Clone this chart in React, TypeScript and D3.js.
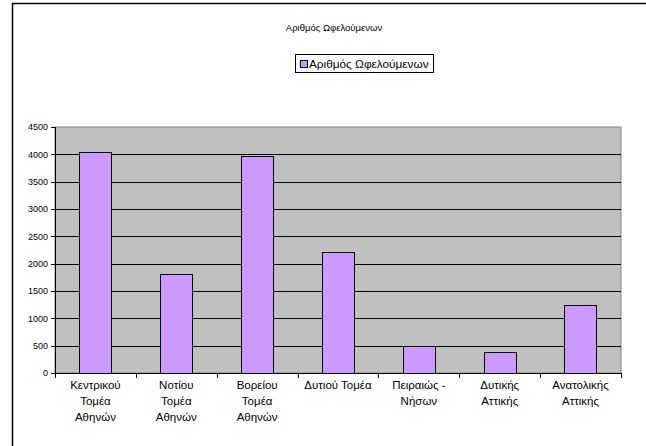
import React from "react";
import * as d3 from "d3";

const categories: string[][] = [
  ["Κεντρικού", "Τομέα", "Αθηνών"],
  ["Νοτίου", "Τομέα", "Αθηνών"],
  ["Βορείου", "Τομέα", "Αθηνών"],
  ["Δυτιού Τομέα"],
  ["Πειραιώς -", "Νήσων"],
  ["Δυτικής", "Αττικής"],
  ["Ανατολικής", "Αττικής"],
];
const values: number[] = [4040, 1820, 3970, 2210, 490, 390, 1240];
const yTicks: number[] = [0, 500, 1000, 1500, 2000, 2500, 3000, 3500, 4000, 4500];
const title = "Αριθμός Ωφελούμενων";
const seriesName = "Αριθμός Ωφελούμενων";

const W = 646;
const H = 446;
const plot = { left: 55, right: 621, top: 127, bottom: 373 };
const font = "'Liberation Sans', Arial, sans-serif";

export default function App() {
  const idx = categories.map((_, i) => String(i));
  const x = d3
    .scaleBand<string>()
    .domain(idx)
    .range([plot.left, plot.right])
    .paddingInner(0.6)
    .paddingOuter(0.3);
  const xOuter = d3.scaleBand<string>().domain(idx).range([plot.left, plot.right]);
  const y = d3.scaleLinear().domain([0, 4500]).range([plot.bottom, plot.top]);
  const boundaries = d3.range(categories.length + 1).map(
    (i) => plot.left + i * xOuter.step()
  );

  return (
    <svg
      width={W}
      height={H}
      style={{ position: "absolute", left: 0, top: 0, background: "#fff" }}
      fontFamily={font}
    >
      <rect x={0} y={0} width={W} height={H} fill="#fff" />
      {/* chart frame */}
      <rect x={12.5} y={3.5} width={W + 20} height={H + 20} fill="none" stroke="#000" strokeWidth={1.5} />
      {/* title */}
      <text x={334} y={31} textAnchor="middle" fontSize={9.5} fill="#000">
        {title}
      </text>
      {/* legend */}
      <rect x={295.5} y={54.5} width={138} height={18} fill="#fff" stroke="#000" strokeWidth={1} />
      <rect x={300.5} y={60.5} width={7} height={7} fill="#cc99ff" stroke="#000" strokeWidth={1} />
      <text x={309} y={67.5} fontSize={11.8} fill="#000">
        {seriesName}
      </text>
      {/* plot area */}
      <rect
        x={plot.left}
        y={plot.top}
        width={plot.right - plot.left}
        height={plot.bottom - plot.top}
        fill="#c0c0c0"
        stroke="#808080"
        strokeWidth={1}
      />
      {yTicks
        .filter((t) => t > 0 && t < 4500)
        .map((t) => (
          <line
            key={t}
            x1={plot.left}
            x2={plot.right}
            y1={Math.round(y(t)) + 0.5}
            y2={Math.round(y(t)) + 0.5}
            stroke="#000"
            strokeWidth={1}
          />
        ))}
      {/* bars */}
      {values.map((v, i) => (
        <rect
          key={i}
          x={Math.round(x(String(i))!) + 0.5}
          y={Math.round(y(v)) + 0.5}
          width={Math.round(x.bandwidth())}
          height={Math.round(y(0)) - Math.round(y(v))}
          fill="#cc99ff"
          stroke="#000"
          strokeWidth={1}
        />
      ))}
      {/* y axis */}
      <line x1={plot.left + 0.5} x2={plot.left + 0.5} y1={plot.top} y2={plot.bottom} stroke="#000" />
      {yTicks.map((t) => (
        <g key={t}>
          <line
            x1={plot.left - 4}
            x2={plot.left}
            y1={Math.round(y(t)) + 0.5}
            y2={Math.round(y(t)) + 0.5}
            stroke="#000"
          />
          <text x={plot.left - 7} y={y(t) + 3.3} textAnchor="end" fontSize={9} fill="#000">
            {t}
          </text>
        </g>
      ))}
      {/* x axis */}
      <line x1={plot.left} x2={plot.right} y1={plot.bottom + 0.5} y2={plot.bottom + 0.5} stroke="#000" />
      {boundaries.map((b, i) => (
        <line
          key={i}
          x1={Math.round(b) + 0.5}
          x2={Math.round(b) + 0.5}
          y1={plot.bottom}
          y2={plot.bottom + 5}
          stroke="#000"
        />
      ))}
      {categories.map((lines, i) => (
        <text
          key={i}
          x={x(String(i))! + x.bandwidth() / 2}
          textAnchor="middle"
          fontSize={11.5}
          fill="#000"
        >
          {lines.map((l, j) => (
            <tspan key={j} x={x(String(i))! + x.bandwidth() / 2} y={389 + j * 16}>
              {l}
            </tspan>
          ))}
        </text>
      ))}
    </svg>
  );
}
